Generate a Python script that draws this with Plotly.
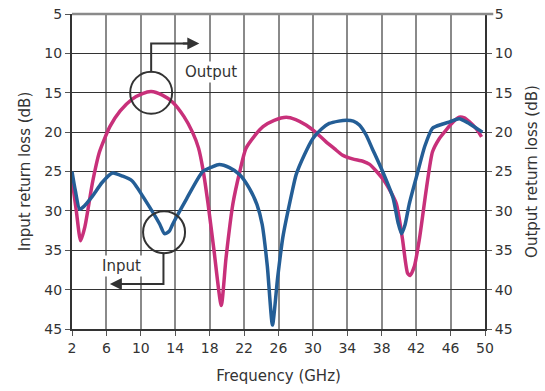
import plotly.graph_objects as go

# Output (magenta) return loss, dB
out_freq = [2.0, 2.5, 3.0, 3.5, 4.4, 5.2, 6.4, 7.6, 9.0, 10.2, 11.2, 12.5, 13.7, 15.0, 16.0, 16.7, 17.2, 17.8, 18.5, 19.35, 19.9, 20.7, 21.5, 22.2, 23.2, 24.2, 25.5, 26.9, 28.0, 29.2, 30.4, 31.5, 32.5, 33.4, 34.6, 35.8, 36.6, 37.4, 38.3, 39.0, 39.7, 40.4, 41.0, 41.3, 41.8, 42.4, 43.2, 43.9, 44.7, 45.5, 46.3, 47.0, 47.6, 48.2, 49.0, 49.6]
out_loss = [26.0, 30.0, 33.8, 32.0, 26.3, 22.5, 19.3, 17.3, 15.8, 15.1, 14.85, 15.3, 16.2, 18.0, 20.0, 22.0, 24.6, 29.0, 35.0, 42.0, 36.0, 29.1, 25.0, 22.1, 20.5, 19.3, 18.5, 18.1, 18.4, 19.1, 20.1, 21.2, 22.1, 22.9, 23.4, 23.7, 24.1, 25.0, 26.2, 27.5, 29.1, 33.5, 37.9, 38.2, 37.0, 33.4, 27.1, 22.5, 20.8, 19.7, 18.7, 18.1, 18.2, 18.7, 19.6, 20.6]

# Input (blue) return loss, dB
in_freq = [2.0, 2.4, 2.9, 3.5, 4.4, 5.5, 6.7, 7.9, 9.0, 10.6, 12.2, 12.75, 13.3, 13.7, 15.3, 17.2, 18.3, 19.1, 20.3, 21.5, 22.6, 23.5, 24.1, 24.7, 25.3, 25.9, 26.5, 27.6, 28.05, 29.0, 30.0, 31.0, 31.9, 33.0, 33.9, 34.7, 35.4, 36.2, 36.9, 38.1, 39.3, 39.9, 40.3, 40.7, 41.2, 42.2, 43.0, 43.9, 45.0, 45.9, 47.0, 48.0, 49.0, 49.7]
in_loss = [25.0, 27.5, 29.8, 29.3, 28.1, 26.4, 25.2, 25.6, 26.2, 28.8, 31.7, 32.9, 32.6, 31.7, 28.5, 25.0, 24.4, 24.1, 24.5, 25.4, 27.1, 29.2, 31.7, 37.0, 44.5, 38.5, 33.4, 27.5, 25.4, 22.9, 20.8, 19.6, 18.9, 18.6, 18.5, 18.6, 19.1, 20.4, 22.1, 25.0, 28.3, 31.5, 32.9, 31.8, 29.1, 25.0, 21.8, 19.5, 19.0, 18.7, 18.3, 18.8, 19.5, 20.0]

x_ticks = [2, 6, 10, 14, 18, 22, 26, 30, 34, 38, 42, 46, 50]
y_ticks = [5, 10, 15, 20, 25, 30, 35, 40, 45]

FONT = "DejaVu Sans"
TXT = "#333333"
MAGENTA = "#C8307A"
BLUE = "#245E96"
INK = "#333333"

fig = go.Figure()
fig.add_trace(go.Scatter(x=out_freq, y=out_loss, mode="lines", line=dict(color=MAGENTA, width=3.5, shape="spline", smoothing=0.6), name="Output", hoverinfo="skip"))
fig.add_trace(go.Scatter(x=in_freq, y=in_loss, mode="lines", line=dict(color=BLUE, width=3.5, shape="spline", smoothing=0.6), name="Input", hoverinfo="skip"))
fig.add_trace(go.Scatter(x=[x_ticks[0]], y=[y_ticks[0]], yaxis="y2", mode="markers", marker=dict(opacity=0), showlegend=False, hoverinfo="skip"))

# Output annotation
fig.add_shape(type="circle", xref="x", yref="y", xsizemode="pixel", ysizemode="pixel",
              xanchor=11.2, yanchor=15.0, x0=-21, x1=21, y0=-21, y1=21,
              line=dict(color=INK, width=2))
fig.add_shape(type="path", xref="x", yref="y", path="M 11.2,12.4 L 11.2,8.75 L 15.5,8.75",
              line=dict(color=INK, width=2))
fig.add_annotation(x=16.8, y=8.75, ax=-18, ay=0, text="", showarrow=True, arrowhead=2,
                   arrowsize=1.2, arrowwidth=2, arrowcolor=INK)
fig.add_annotation(x=18.2, y=12.4, text="Output", showarrow=False, bgcolor="white",
                   font=dict(family=FONT, size=15, color=TXT))

# Input annotation
fig.add_shape(type="circle", xref="x", yref="y", xsizemode="pixel", ysizemode="pixel",
              xanchor=12.7, yanchor=32.7, x0=-21, x1=21, y0=-21, y1=21,
              line=dict(color=INK, width=2))
fig.add_shape(type="path", xref="x", yref="y", path="M 12.63,35.3 L 12.63,39.3 L 7.8,39.3",
              line=dict(color=INK, width=2))
fig.add_annotation(x=6.4, y=39.3, ax=18, ay=0, text="", showarrow=True, arrowhead=2,
                   arrowsize=1.2, arrowwidth=2, arrowcolor=INK)
fig.add_annotation(x=7.75, y=37.0, text="Input", showarrow=False, bgcolor="white",
                   font=dict(family=FONT, size=15, color=TXT))

TITLE_FONT = dict(family=FONT, size=15, color=TXT)
TICK_FONT = dict(family=FONT, size=14, color=TXT)

fig.update_layout(
    width=545, height=391,
    margin=dict(l=72, r=60, t=14, b=62),
    plot_bgcolor="white", paper_bgcolor="white",
    showlegend=False,
    font=dict(family=FONT, size=14, color=TXT),
    xaxis=dict(range=[2, 50], tickvals=x_ticks, ticktext=[str(v) for v in x_ticks],
               showgrid=True, gridcolor="#8a8a8a", gridwidth=1.5,
               showline=True, linecolor=INK, linewidth=2, mirror=False,
               ticks="outside", ticklen=5, tickcolor="#555555", zeroline=False,
               tickfont=TICK_FONT, automargin=False,
               title=dict(text="Frequency (GHz)", standoff=16, font=TITLE_FONT)),
    yaxis=dict(range=[45, 5], tickvals=y_ticks, showgrid=True, gridcolor=INK, gridwidth=1.3,
               showline=True, linecolor=INK, linewidth=2,
               ticks="outside", ticklen=5, tickcolor="#555555", zeroline=False,
               tickfont=TICK_FONT, automargin=False,
               title=dict(text="Input return loss (dB)", standoff=10, font=TITLE_FONT)),
    yaxis2=dict(range=[45, 5], tickvals=y_ticks, overlaying="y", side="right",
                showgrid=False, showline=True, linecolor=INK, linewidth=2,
                ticks="outside", ticklen=5, tickcolor="#555555", zeroline=False,
                tickfont=TICK_FONT, automargin=False,
                title=dict(text="Output return loss (dB)", standoff=15, font=TITLE_FONT)),
)
fig.add_shape(type="line", xref="paper", yref="paper", x0=0, x1=1.02, y0=1, y1=1,
              line=dict(color="#8a8a8a", width=2.5), layer="above")

fig.write_html("out.html", config={"displayModeBar": False})
with open("out.html", encoding="utf-8") as f:
    html = f.read()
html = html.replace("<body>", '<body style="margin:0">', 1)
with open("out.html", "w", encoding="utf-8") as f:
    f.write(html)
